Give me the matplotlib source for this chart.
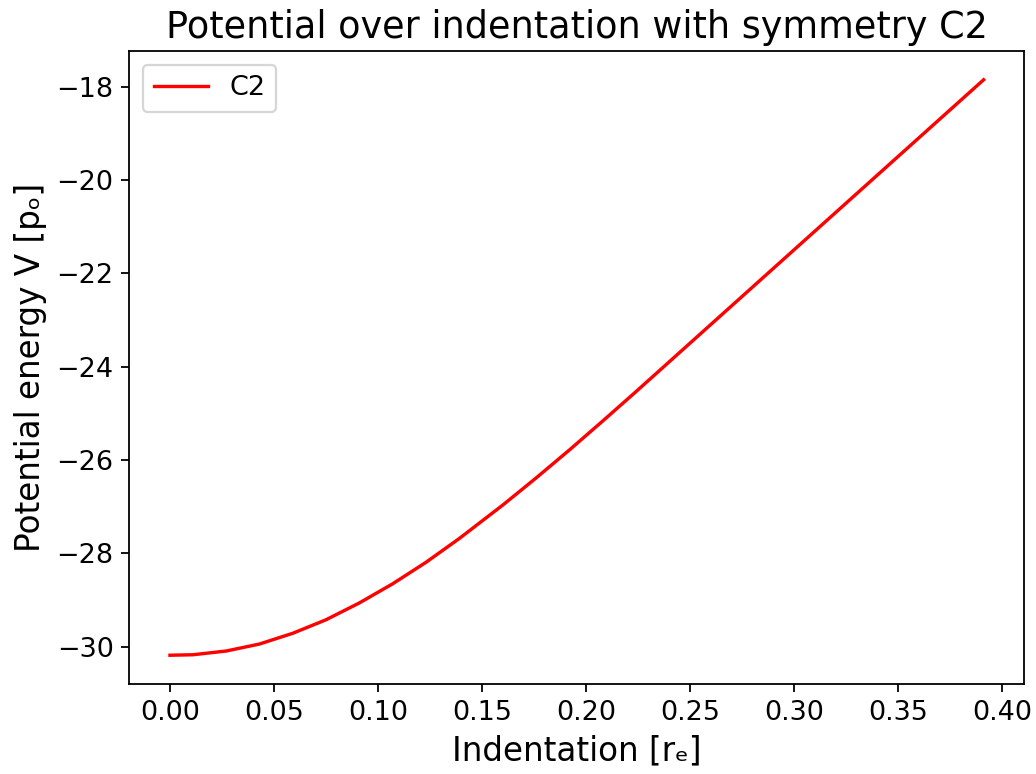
import matplotlib
matplotlib.use("Agg")
import matplotlib.pyplot as plt

indentation = [0.000, 0.011, 0.027, 0.043, 0.059, 0.075, 0.091, 0.107, 0.123,
               0.139, 0.160, 0.176, 0.192, 0.208, 0.224, 0.240, 0.256, 0.272,
               0.288, 0.306, 0.322, 0.338, 0.354, 0.370, 0.391]
potential = [-30.18, -30.17, -30.09, -29.94, -29.71, -29.42, -29.06, -28.65, -28.19,
             -27.68, -26.96, -26.38, -25.78, -25.16, -24.53, -23.89, -23.25, -22.61,
             -21.97, -21.25, -20.61, -19.97, -19.33, -18.69, -17.85]
series_label = "C2"
title = "Potential over indentation with symmetry C2"
xlabel = "Indentation [r\u2091]"
ylabel = "Potential energy V [p\u2092]"

dpi = 162
fig = plt.figure(figsize=(1036 / dpi, 774 / dpi), dpi=dpi)
ax = fig.add_axes([129.3 / 1036, 1 - 684 / 774, (1024.3 - 129.3) / 1036, (684 - 51) / 774])
ax.plot(indentation, potential, color="red", linewidth=1.5, label=series_label,
        solid_joinstyle="round")
ax.set_title(title, fontsize=16.3)
ax.set_xlabel(xlabel, fontsize=14.5)
ax.set_ylabel(ylabel, fontsize=14.5)
ax.tick_params(labelsize=12)
ax.set_xticks([0.00, 0.05, 0.10, 0.15, 0.20, 0.25, 0.30, 0.35, 0.40])
ax.set_yticks([-30, -28, -26, -24, -22, -20, -18])
ax.legend(loc="upper left", fontsize=12)
fig.savefig("out.png", dpi=dpi)
